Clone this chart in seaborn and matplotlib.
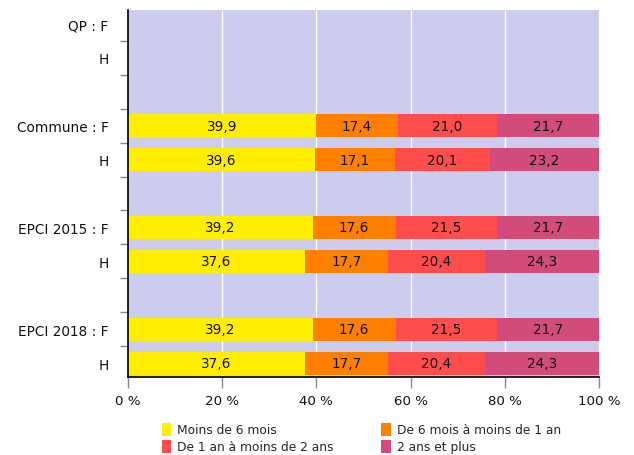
import numpy as np
import pandas as pd
import matplotlib
matplotlib.use("Agg")
import matplotlib.pyplot as plt
import seaborn as sns
from matplotlib.patches import Patch

# ---- data ----
row_labels = ["QP : F", "H", "Commune : F", "H", "EPCI 2015 : F", "H", "EPCI 2018 : F", "H"]
row_slots = [0, 1, 3, 4, 6, 7, 9, 10]
series_names = ["Moins de 6 mois", "De 6 mois à moins de 1 an",
                "De 1 an à moins de 2 ans", "2 ans et plus"]
# values for rows with data (QP rows are empty)
data_rows = ["Commune : F", "Commune : H", "EPCI 2015 : F", "EPCI 2015 : H",
             "EPCI 2018 : F", "EPCI 2018 : H"]
data_slots = [3, 4, 6, 7, 9, 10]
moins_6_mois = [39.9, 39.6, 39.2, 37.6, 39.2, 37.6]
de_6_mois_1_an = [17.4, 17.1, 17.6, 17.7, 17.6, 17.7]
de_1_an_2_ans = [21.0, 20.1, 21.5, 20.4, 21.5, 20.4]
deux_ans_plus = [21.7, 23.2, 21.7, 24.3, 21.7, 24.3]
colors = ["#FFEE00", "#FF8000", "#FF4D4D", "#D14C7A"]
x_ticks = [0, 20, 40, 60, 80, 100]
x_ticklabels = ["0 %", "20 %", "40 %", "60 %", "80 %", "100 %"]

sns.set_theme(style="white")
plt.rcParams["font.family"] = ["DejaVu Sans"]

series = [moins_6_mois, de_6_mois_1_an, de_1_an_2_ans, deux_ans_plus]
vals = np.array(series)  # shape (4, n)
cum = np.cumsum(vals, axis=0)

fig = plt.figure(figsize=(6.34, 4.56), dpi=100)
ax = fig.add_axes([128 / 634, 1 - 378 / 456, (599 - 128) / 634, (378 - 11) / 456])
ax.set_facecolor("#CCCCEE")

# white vertical grid
for xv in x_ticks[1:]:
    ax.axvline(xv, color="white", lw=1.0, zorder=0.5)

# stacked bars: draw from the longest cumulative to shortest
for i in range(len(series) - 1, -1, -1):
    df = pd.DataFrame({"x": cum[i], "y": data_slots})
    sns.barplot(data=df, x="x", y="y", orient="h", native_scale=True,
                color=colors[i], width=0.7, linewidth=0, saturation=1,
                ax=ax, zorder=2)

# value labels
for i in range(len(series)):
    left = cum[i] - vals[i]
    for j, y in enumerate(data_slots):
        ax.text(left[j] + vals[i][j] / 2, y, f"{vals[i][j]:.1f}".replace(".", ","),
                ha="center", va="center", fontsize=9.8, color="#111111", zorder=3)

ax.set_xlim(0, 100)
ax.set_ylim(10.4, -0.4)
ax.set_xlabel("")
ax.set_ylabel("")

ax.set_xticks(x_ticks)
ax.set_xticklabels(x_ticklabels, fontsize=9.6, color="#111111")
ax.tick_params(axis="x", which="major", length=8, width=1, color="#888888",
               direction="out", bottom=True, pad=4)

ax.set_yticks(row_slots)
ax.set_yticklabels(row_labels, fontsize=9.8, color="#111111")
ax.tick_params(axis="y", which="major", length=0, pad=14)
ax.set_yticks([k + 0.5 for k in range(10)], minor=True)
ax.tick_params(axis="y", which="minor", length=6, width=1, color="#888888",
               direction="out", left=True)

for s in ["top", "right"]:
    ax.spines[s].set_visible(False)
ax.spines["left"].set_color("black")
ax.spines["left"].set_linewidth(1.2)
ax.spines["bottom"].set_color("black")
ax.spines["bottom"].set_linewidth(1.2)
ax.grid(False)

handles = [Patch(facecolor=c, edgecolor="none", label=n) for c, n in zip(colors, series_names)]
order = [0, 2, 1, 3]  # row-wise fill: matplotlib fills column-wise
fig.legend(handles=[handles[k] for k in order], ncol=2, loc="upper left",
           bbox_to_anchor=(162 / 634, 1 - 424 / 456), frameon=False,
           fontsize=8.8, handlelength=0.75, handleheight=1.2, handletextpad=0.5,
           columnspacing=3.9, labelspacing=0.3, borderaxespad=0, borderpad=0)

fig.savefig("out.png", dpi=100)
